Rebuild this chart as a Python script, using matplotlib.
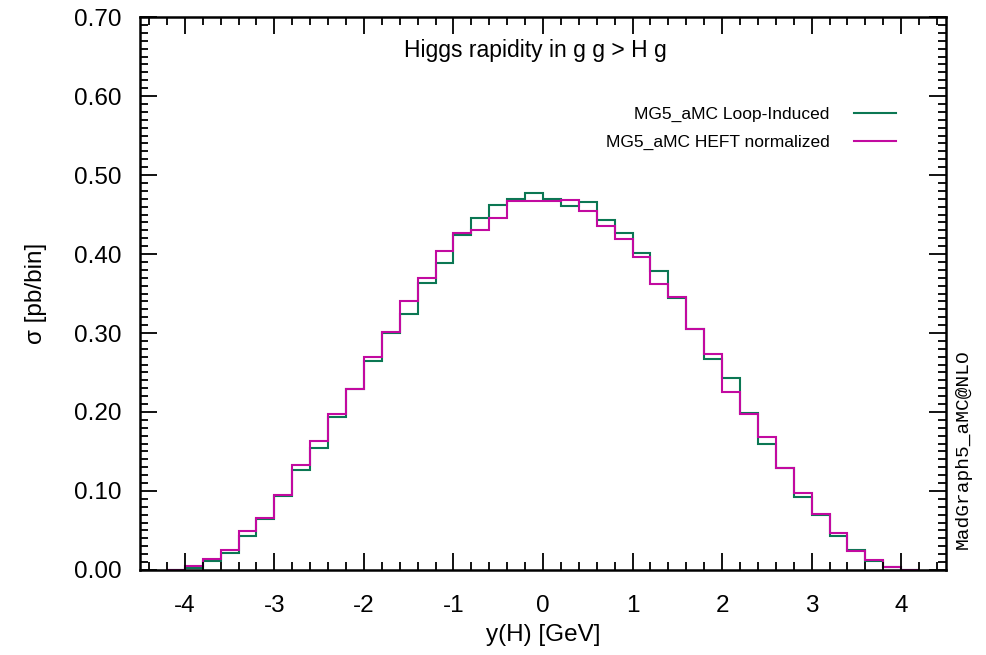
import numpy as np
import matplotlib
matplotlib.use("Agg")
import matplotlib.pyplot as plt
from matplotlib.ticker import MultipleLocator, FormatStrFormatter

plt.rcParams['font.family'] = ['Liberation Sans', 'DejaVu Sans']

# bin edges of y(H), width 0.2, from -4.2 to 4.2
bin_lo, bin_hi, n_bins = -4.2, 4.2, 42

loop_induced = [
    0.0, 0.003, 0.011, 0.022, 0.043, 0.065, 0.094, 0.127, 0.155, 0.194,
    0.229, 0.265, 0.300, 0.324, 0.363, 0.389, 0.424, 0.446, 0.462, 0.470,
    0.477, 0.470, 0.461, 0.466, 0.443, 0.427, 0.401, 0.379, 0.344, 0.305,
    0.267, 0.243, 0.199, 0.160, 0.129, 0.092, 0.069, 0.043, 0.025, 0.012,
    0.004, 0.0,
]
heft_normalized = [
    0.0, 0.005, 0.0135, 0.025, 0.049, 0.066, 0.095, 0.133, 0.163, 0.198,
    0.229, 0.269, 0.301, 0.341, 0.369, 0.404, 0.427, 0.431, 0.445, 0.467,
    0.467, 0.467, 0.469, 0.454, 0.436, 0.419, 0.396, 0.362, 0.346, 0.305,
    0.273, 0.225, 0.197, 0.168, 0.129, 0.098, 0.071, 0.047, 0.024, 0.013,
    0.004, 0.0,
]
series_labels = ["MG5_aMC Loop-Induced", "MG5_aMC HEFT normalized"]
series_colors = ["#0b7753", "#c20aa0"]

edges = np.linspace(bin_lo, bin_hi, n_bins + 1)

fig = plt.figure(figsize=(9.86, 6.55), dpi=100)
ax = fig.add_axes([0.142, 0.1298, 0.8174, 0.8442])

for vals, lab, col in zip([loop_induced, heft_normalized], series_labels, series_colors):
    ax.stairs(vals, edges, baseline=None, color=col, lw=1.5, label=lab)

ax.set_xlim(-4.5, 4.5)
ax.set_ylim(0, 0.7)
ax.xaxis.set_major_locator(MultipleLocator(1))
ax.xaxis.set_minor_locator(MultipleLocator(0.2))
ax.yaxis.set_major_locator(MultipleLocator(0.1))
ax.yaxis.set_minor_locator(MultipleLocator(0.01))
ax.yaxis.set_major_formatter(FormatStrFormatter('%.2f'))
ax.xaxis.set_major_formatter(FormatStrFormatter('%d'))

ax.tick_params(which='both', direction='in', top=True, right=True, labelsize=17.5, width=1.3)
ax.tick_params(which='major', length=12)
ax.tick_params(axis='y', which='major', pad=13)
ax.tick_params(axis='x', which='major', pad=18)
ax.tick_params(which='minor', length=6)
for s in ax.spines.values():
    s.set_linewidth(1.8)

ax.set_xlabel("y(H) [GeV]", fontsize=17.5, labelpad=5)
ax.set_ylabel("σ [pb/bin]", fontsize=17.5, labelpad=20)

ax.text(0.49, 0.940, "Higgs rapidity in g g > H g", transform=ax.transAxes,
        ha='center', va='center', fontsize=16.5)

leg = ax.legend(loc='upper right', bbox_to_anchor=(0.958, 0.866), frameon=False,
                fontsize=12.5, markerfirst=False, handlelength=2.45, handletextpad=1.4,
                labelspacing=0.72)
for t in leg.get_texts():
    t.set_ha('right')

fig.text(0.977, 0.314, "MadGraph5_aMC@NLO", rotation=90, ha='center', va='center',
         fontsize=14, family='Liberation Mono')

fig.savefig("out.png", dpi=100)
